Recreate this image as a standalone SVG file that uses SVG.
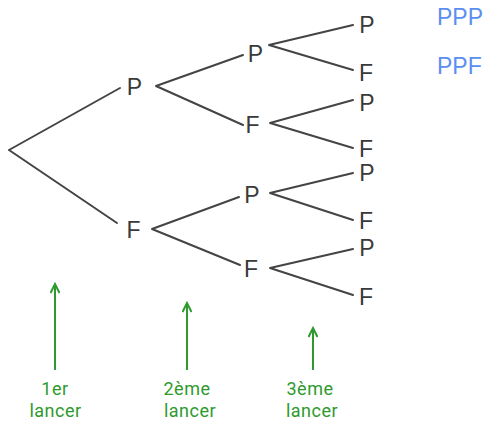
<svg xmlns="http://www.w3.org/2000/svg" width="488" height="421" viewBox="0 0 488 421">
<defs>
<style>
.t{font-family:"Liberation Sans",Arial,sans-serif;font-size:23px;fill:#3a3a3a;text-anchor:middle}
.r{font-family:"Liberation Sans",Arial,sans-serif;font-size:23px;fill:#5b8ef2}
.g{font-family:Roboto,"Liberation Sans",sans-serif;font-size:18px;fill:#2e9a2e;text-anchor:middle;letter-spacing:0.5px}
.e{stroke:#444;stroke-width:2;fill:none;stroke-linecap:round}
.a{stroke:#2e9a2e;stroke-width:2;fill:none}
</style>
<marker id="ah" viewBox="0 0 12 10" refX="10" refY="5" markerWidth="12" markerHeight="10" markerUnits="userSpaceOnUse" orient="auto">
<path d="M1,0.5 L10,5 L1,9.5" fill="none" stroke="#2e9a2e" stroke-width="2"/>
</marker>
</defs>
<rect width="488" height="421" fill="#fff"/>
<g id="connectors">
<path class="e" d="M9,150 L120,88 M9,150 L117,223"/>
<path class="e" d="M156,86 L243,55 M156,86 L243,125"/>
<path class="e" d="M152,229 L239,197 M152,229 L240,265"/>
<path class="e" d="M269,45 L353,25 M269,45 L353,70"/>
<path class="e" d="M270,123 L353,100 M270,123 L353,148"/>
<path class="e" d="M270,193 L353,173 M270,193 L353,220"/>
<path class="e" d="M270,268 L353,249 M270,268 L353,295"/>
<path class="a" d="M55,370 L55,284" marker-end="url(#ah)"/>
<path class="a" d="M187,370 L187,303" marker-end="url(#ah)"/>
<path class="a" d="M313,370 L313,328" marker-end="url(#ah)"/>
</g>
<g id="n1P"><text class="t" x="134.5" y="95">P</text></g>
<g id="n1F"><text class="t" x="133.5" y="238">F</text></g>
<g id="n2PP"><text class="t" x="255.5" y="62">P</text></g>
<g id="n2PF"><text class="t" x="252.5" y="133">F</text></g>
<g id="n2FP"><text class="t" x="252" y="203">P</text></g>
<g id="n2FF"><text class="t" x="251" y="277">F</text></g>
<g id="n3PPP"><text class="t" x="367" y="33">P</text></g>
<g id="n3PPF"><text class="t" x="366" y="81">F</text></g>
<g id="n3PFP"><text class="t" x="367" y="111">P</text></g>
<g id="n3PFF"><text class="t" x="366" y="157">F</text></g>
<g id="n3FPP"><text class="t" x="367" y="181">P</text></g>
<g id="n3FPF"><text class="t" x="366" y="229">F</text></g>
<g id="n3FFP"><text class="t" x="367" y="256">P</text></g>
<g id="n3FFF"><text class="t" x="366" y="305">F</text></g>
<g id="res1"><text class="r" x="437" y="25">PPP</text></g>
<g id="res2"><text class="r" x="437" y="74">PPF</text></g>
<g id="lab1"><text class="g" x="55" y="395">1er</text><text class="g" x="55.5" y="417">lancer</text></g>
<g id="lab2"><text class="g" x="187" y="395">2ème</text><text class="g" x="190" y="417">lancer</text></g>
<g id="lab3"><text class="g" x="310" y="395">3ème</text><text class="g" x="312" y="417">lancer</text></g>
</svg>
